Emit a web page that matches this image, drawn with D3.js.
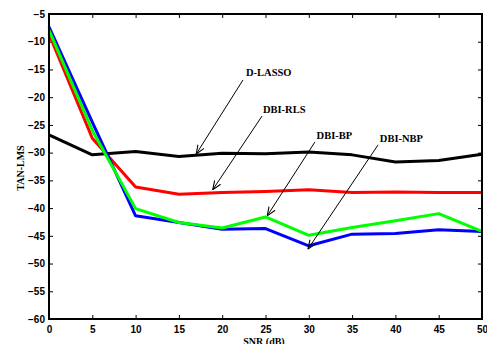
<!DOCTYPE html>
<html>
<head>
<meta charset="utf-8">
<script src="https://cdn.jsdelivr.net/npm/d3@7"></script>
<style>
body { margin: 0; background: #fff; }
</style>
</head>
<body>
<script>
var snr = [0, 5, 10, 15, 20, 25, 30, 35, 40, 45, 50];
var dLasso = [-26.8, -30.4, -29.8, -30.7, -30.1, -30.2, -29.9, -30.4, -31.7, -31.4, -30.3];
var dbiRls = [-8.6, -27.4, -36.2, -37.5, -37.2, -37.0, -36.7, -37.2, -37.1, -37.2, -37.2];
var dbiBp  = [-7.9, -26.0, -40.1, -42.6, -43.6, -41.6, -44.9, -43.5, -42.3, -41.0, -44.2];
var dbiNbp = [-7.3, -24.5, -41.4, -42.6, -43.8, -43.7, -46.8, -44.7, -44.6, -43.9, -44.2];
var yTicks = [-60, -55, -50, -45, -40, -35, -30, -25, -20, -15, -10, -5];

// label text position, arrow start, arrow end (data units)
var notes = [
  { name: "D-LASSO", tx: 22.75, ty: -16.2, x1: 22.4, y1: -16.9, x2: 17.0, y2: -30.25 },
  { name: "DBI-RLS", tx: 24.7, ty: -22.8, x1: 24.6, y1: -23.4, x2: 18.9, y2: -36.7 },
  { name: "DBI-BP", tx: 30.9, ty: -27.6, x1: 30.7, y1: -28.1, x2: 25.2, y2: -41.4 },
  { name: "DBI-NBP", tx: 38.2, ty: -28.0, x1: 38.0, y1: -28.6, x2: 29.9, y2: -47.4 }
];

var w = 487, h = 344;
var pLeft = 49, pRight = 482, pTop = 14, pBottom = 319;

var svg = d3.select("body").append("svg").attr("width", w).attr("height", h);

var x = d3.scaleLinear().domain([0, 50]).range([pLeft, pRight]);
var y = d3.scaleLinear().domain([-60, -5]).range([pBottom, pTop]);

var defs = svg.append("defs");
defs.append("marker")
  .attr("id", "arr")
  .attr("viewBox", "0 0 10 10")
  .attr("refX", 10).attr("refY", 5)
  .attr("markerWidth", 9).attr("markerHeight", 9)
  .attr("markerUnits", "userSpaceOnUse")
  .attr("orient", "auto")
  .append("path")
  .attr("d", "M0,1 L10,5 L0,9")
  .attr("fill", "none")
  .attr("stroke", "black")
  .attr("stroke-width", 1.2);

// axes, ticks inward on all 4 sides
function styleAxis(g) {
  g.select(".domain").remove();
  g.selectAll("line").attr("stroke", "black").attr("stroke-width", 1);
  g.selectAll("text")
    .attr("font-family", "'Liberation Sans', Arial, sans-serif")
    .attr("font-weight", "bold")
    .attr("font-size", "10px")
    .attr("fill", "black");
}

svg.append("g").attr("transform", "translate(0," + pBottom + ")")
  .call(d3.axisBottom(x).tickValues(snr).tickSize(-4).tickPadding(7))
  .call(styleAxis);
svg.append("g").attr("transform", "translate(0," + pTop + ")")
  .call(d3.axisTop(x).tickValues(snr).tickSize(-4).tickFormat(""))
  .call(styleAxis);
svg.append("g").attr("transform", "translate(" + pLeft + ",0)")
  .call(d3.axisLeft(y).tickValues(yTicks).tickSize(-4).tickPadding(4))
  .call(styleAxis);
svg.append("g").attr("transform", "translate(" + pRight + ",0)")
  .call(d3.axisRight(y).tickValues(yTicks).tickSize(-4).tickFormat(""))
  .call(styleAxis);

var line = d3.line()
  .x(function(d, i) { return x(snr[i]); })
  .y(function(d) { return y(d); });

var series = [
  { v: dLasso, c: "#000000" },
  { v: dbiRls, c: "#ff0000" },
  { v: dbiNbp, c: "#0000ff" },
  { v: dbiBp, c: "#00ff00" }
];

svg.selectAll("path.series")
  .data(series)
  .enter()
  .append("path")
  .attr("class", "series")
  .attr("d", function(d) { return line(d.v); })
  .attr("fill", "none")
  .attr("stroke", function(d) { return d.c; })
  .attr("stroke-width", 3)
  .attr("stroke-linejoin", "round");

// plot box
svg.append("rect")
  .attr("x", pLeft).attr("y", pTop)
  .attr("width", pRight - pLeft).attr("height", pBottom - pTop)
  .attr("fill", "none")
  .attr("stroke", "black")
  .attr("stroke-width", 2);

// annotations
svg.selectAll("line.note")
  .data(notes)
  .enter()
  .append("line")
  .attr("class", "note")
  .attr("x1", function(d) { return x(d.x1); })
  .attr("y1", function(d) { return y(d.y1); })
  .attr("x2", function(d) { return x(d.x2); })
  .attr("y2", function(d) { return y(d.y2); })
  .attr("stroke", "black")
  .attr("stroke-width", 1)
  .attr("marker-end", "url(#arr)");

svg.selectAll("text.note")
  .data(notes)
  .enter()
  .append("text")
  .attr("class", "note")
  .attr("x", function(d) { return x(d.tx); })
  .attr("y", function(d) { return y(d.ty); })
  .text(function(d) { return d.name; })
  .attr("font-family", "'Liberation Serif', 'Times New Roman', serif")
  .attr("font-weight", "bold")
  .attr("font-size", "10.5px");

// axis titles
svg.append("text")
  .attr("x", 264).attr("y", 345)
  .attr("text-anchor", "middle")
  .attr("font-family", "'Liberation Serif', 'Times New Roman', serif")
  .attr("font-weight", "bold")
  .attr("font-size", "10px")
  .text("SNR (dB)");

svg.append("text")
  .attr("transform", "translate(24,168) rotate(-90)")
  .attr("text-anchor", "middle")
  .attr("font-family", "'Liberation Serif', 'Times New Roman', serif")
  .attr("font-weight", "bold")
  .attr("font-size", "10px")
  .text("TAN-LMS");
</script>
</body>
</html>
